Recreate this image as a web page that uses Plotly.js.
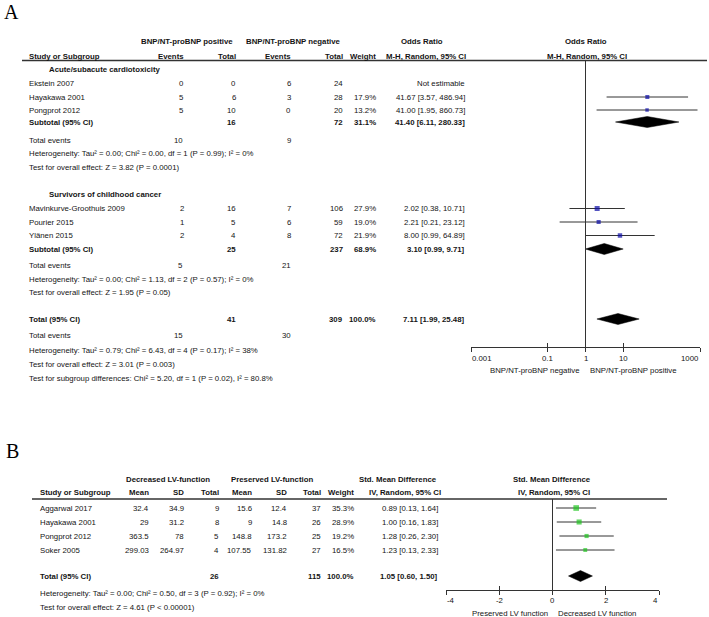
<!DOCTYPE html>
<html><head><meta charset="utf-8">
<script src="https://cdn.plot.ly/plotly-3.0.1.min.js"></script>
<style>html,body{margin:0;padding:0;background:#fff}#chart{width:709px;height:617px}</style>
</head><body><div id="chart"></div>
<script>
// ================= DATA : panel A =================
const groupNamesA = ["Acute/subacute cardiotoxicity", "Survivors of childhood cancer"];
const studiesA   = ["Ekstein 2007", "Hayakawa 2001", "Pongprot 2012", "Mavinkurve-Groothuis 2009", "Pourier 2015", "Ylänen 2015"];
const groupOfA   = [0, 0, 0, 1, 1, 1];
const posEventsA = [0, 5, 5, 2, 1, 2];
const posTotalA  = [0, 6, 10, 16, 5, 4];
const negEventsA = [6, 3, 0, 7, 6, 8];
const negTotalA  = [24, 28, 20, 106, 59, 72];
const weightA    = [null, 17.9, 13.2, 27.9, 19.0, 21.9];
const orA        = [null, 41.67, 41.00, 2.02, 2.21, 8.00];
const orLoA      = [null, 3.57, 1.95, 0.38, 0.21, 0.99];
const orHiA      = [null, 486.94, 860.73, 10.71, 23.12, 64.89];
// subgroup summaries
const subPosTotalA  = [16, 25];
const subNegTotalA  = [72, 237];
const subWeightA    = [31.1, 68.9];
const subOrA        = [41.40, 3.10];
const subLoA        = [6.11, 0.99];
const subHiA        = [280.33, 9.71];
const subPosEventsA = [10, 5];
const subNegEventsA = [9, 21];
const subTau2A = [0.00, 0.00];
const subChi2A = [0.00, 1.13];
const subDfA   = [1, 2];
const subHetPA = ["0.99", "0.57"];
const subI2A   = [0, 0];
const subZA    = [3.82, 1.95];
const subZPA   = ["0.0001", "0.05"];
// overall
const totPosTotalA = 41, totNegTotalA = 309, totWeightA = 100.0;
const totOrA = 7.11, totLoA = 1.99, totHiA = 25.48;
const totPosEventsA = 15, totNegEventsA = 30;
const totTau2A = 0.79, totChi2A = 6.43, totDfA = 4, totHetPA = "0.17", totI2A = 38;
const totZA = 3.01, totZPA = "0.003";
const sgChi2A = 5.20, sgDfA = 1, sgPA = "0.02", sgI2A = 80.8;
const ticksA = [0.001, 0.1, 1, 10, 1000];
const tickTextA = ["0.001", "0.1", "1", "10", "1000"];

// ================= DATA : panel B =================
const studiesB  = ["Aggarwal 2017", "Hayakawa 2001", "Pongprot 2012", "Soker 2005"];
const meanDecB  = [32.4, 29, 363.5, 299.03];
const sdDecB    = [34.9, 31.2, 78, 264.97];
const nDecB     = [9, 8, 5, 4];
const meanPresB = [15.6, 9, 148.8, 107.55];
const sdPresB   = [12.4, 14.8, 173.2, 131.82];
const nPresB    = [37, 26, 25, 27];
const weightB   = [35.3, 28.9, 19.2, 16.5];
const smdB      = [0.89, 1.00, 1.28, 1.23];
const smdLoB    = [0.13, 0.16, 0.26, 0.13];
const smdHiB    = [1.64, 1.83, 2.30, 2.33];
const totNDecB = 26, totNPresB = 115, totWeightB = 100.0;
const totSmdB = 1.05, totLoB = 0.60, totHiB = 1.50;
const totTau2B = 0.00, totChi2B = 0.50, totDfB = 3, totHetPB = "0.92", totI2B = 0;
const totZB = 4.61, totZPB = "< 0.00001";
const ticksB = [-4, -2, 0, 2, 4];
const tickTextB = ["-4", "-2", "0", "2", "4"];

// ================= LAYOUT (pixel geometry) =================
const W = 709, H = 617;
const FONT = '"Liberation Sans", Arial, Helvetica, sans-serif';
const FS = 7.8;
const TXT = '#141414';
const LINE = '#333333';
const px = x => x / W, py = y => 1 - y / H;

// row positions (layout)
const rowA = {
  head1: 42, head2: 56, line: 60.5, axis: 347, tick: 358,
  group: [69.5, 194.5],
  study: [84, 97, 110, 208.5, 222, 235.5],
  subtotal: [122, 249], tevents: [140.5, 265.5], het: [154, 279], test: [167.5, 292.5],
  total: 319, ttevents: 336, thet: 350, ttest: 364, tsub: 378, axTitle: 370
};
const colA = { label: 28, group: 48, ev1: 185, tot1: 237, ev2: 292, tot2: 344, w: 377, ci: 466 };
const rowB = {
  head1: 479, head2: 493, line: 499, axis: 590, tick: 600.5,
  study: [508, 522, 536, 550], total: 576, het: 593, test: 607, axTitle: 613
};
const colB = { label: 39, m1: 150, sd1: 185, n1: 220, m2: 253, sd2: 288, n2: 322, w: 355, ci: 439 };

const annotations = [];
function T(x, y, text, anchor, bold, font) {
  annotations.push({
    xref: 'paper', yref: 'paper', x: px(x), y: py(y),
    text: bold ? '<b>' + text + '</b>' : String(text),
    xanchor: anchor || 'left', yanchor: 'middle', showarrow: false,
    borderpad: 0, font: font || { family: FONT, size: FS, color: TXT }
  });
}
// tick labels placed on the axis' own data scale (edge labels kept inside the axis span)
function tickLabels(xref, vals, texts, ypx, isLog) {
  vals.forEach((v, i) => {
    annotations.push({
      xref: xref, yref: 'paper', x: isLog ? Math.log10(v) : v, y: py(ypx),
      text: texts[i], showarrow: false, borderpad: 0, yanchor: 'middle',
      xanchor: i === 0 ? 'left' : (i === vals.length - 1 ? 'right' : 'center'),
      font: { family: FONT, size: FS, color: TXT }
    });
  });
}
const f2 = v => v.toFixed(2);
const ci = (e, l, h) => `${f2(e)} [${f2(l)}, ${f2(h)}]`;
const pct = w => w.toFixed(1) + '%';
const het = (t, c, d, p, i) => `Heterogeneity: Tau² = ${f2(t)}; Chi² = ${f2(c)}, df = ${d} (P = ${p}); I² = ${i}%`;
const zt = (z, p) => `Test for overall effect: Z = ${f2(z)} (P ${p.startsWith('<') ? p : '= ' + p})`;

// ---- panel letters
T(11, 12, 'A', 'center', false, { family: '"Liberation Serif", "Times New Roman", serif', size: 20, color: '#000' });
T(12, 451, 'B', 'center', false, { family: '"Liberation Serif", "Times New Roman", serif', size: 20, color: '#000' });

// ---- panel A headers
T(187.5, rowA.head1, 'BNP/NT-proBNP positive', 'center', true);
T(293, rowA.head1, 'BNP/NT-proBNP negative', 'center', true);
T(422, rowA.head1, 'Odds Ratio', 'center', true);
T(586, rowA.head1, 'Odds Ratio', 'center', true);
T(colA.label, rowA.head2, 'Study or Subgroup', 'left', true);
T(colA.ev1, rowA.head2, 'Events', 'right', true);
T(colA.tot1, rowA.head2, 'Total', 'right', true);
T(colA.ev2, rowA.head2, 'Events', 'right', true);
T(colA.tot2, rowA.head2, 'Total', 'right', true);
T(colA.w, rowA.head2, 'Weight', 'right', true);
T(colA.ci + 1, rowA.head2, 'M-H, Random, 95% CI', 'right', true);
T(587, rowA.head2, 'M-H, Random, 95% CI', 'center', true);

// ---- panel A rows
groupNamesA.forEach((g, gi) => T(colA.group, rowA.group[gi], g, 'left', true));
studiesA.forEach((s, i) => {
  const y = rowA.study[i];
  T(colA.label, y, s, 'left');
  T(colA.ev1, y, posEventsA[i], 'right');
  T(colA.tot1, y, posTotalA[i], 'right');
  T(colA.ev2, y, negEventsA[i], 'right');
  T(colA.tot2, y, negTotalA[i], 'right');
  if (weightA[i] !== null) T(colA.w, y, pct(weightA[i]), 'right');
  T(colA.ci, y, orA[i] === null ? 'Not estimable' : ci(orA[i], orLoA[i], orHiA[i]), 'right');
});
groupNamesA.forEach((g, gi) => {
  let y = rowA.subtotal[gi];
  T(colA.label, y, 'Subtotal (95% CI)', 'left', true);
  T(colA.tot1, y, subPosTotalA[gi], 'right', true);
  T(colA.tot2, y, subNegTotalA[gi], 'right', true);
  T(colA.w, y, pct(subWeightA[gi]), 'right', true);
  T(colA.ci, y, ci(subOrA[gi], subLoA[gi], subHiA[gi]), 'right', true);
  y = rowA.tevents[gi];
  T(colA.label, y, 'Total events', 'left');
  T(colA.ev1 - 1, y, subPosEventsA[gi], 'right');
  T(colA.ev2, y, subNegEventsA[gi], 'right');
  T(colA.label, rowA.het[gi], het(subTau2A[gi], subChi2A[gi], subDfA[gi], subHetPA[gi], subI2A[gi]), 'left');
  T(colA.label, rowA.test[gi], zt(subZA[gi], subZPA[gi]), 'left');
});
T(colA.label, rowA.total, 'Total (95% CI)', 'left', true);
T(colA.tot1, rowA.total, totPosTotalA, 'right', true);
T(colA.tot2, rowA.total, totNegTotalA, 'right', true);
T(colA.w, rowA.total, pct(totWeightA), 'right', true);
T(colA.ci, rowA.total, ci(totOrA, totLoA, totHiA), 'right', true);
T(colA.label, rowA.ttevents, 'Total events', 'left');
T(colA.ev1 - 1, rowA.ttevents, totPosEventsA, 'right');
T(colA.ev2, rowA.ttevents, totNegEventsA, 'right');
T(colA.label, rowA.thet, het(totTau2A, totChi2A, totDfA, totHetPA, totI2A), 'left');
T(colA.label, rowA.ttest, zt(totZA, totZPA), 'left');
T(colA.label, rowA.tsub, `Test for subgroup differences: Chi² = ${f2(sgChi2A)}, df = ${sgDfA} (P = ${sgPA}), I² = ${sgI2A}%`, 'left');
T(581, rowA.axTitle, 'BNP/NT-proBNP negative', 'right');
T(589, rowA.axTitle, 'BNP/NT-proBNP positive', 'left');
tickLabels('x', ticksA, tickTextA, rowA.tick, true);

// ---- panel B headers
T(167.5, rowB.head1, 'Decreased LV-function', 'center', true);
T(272, rowB.head1, 'Preserved LV-function', 'center', true);
T(398, rowB.head1, 'Std. Mean Difference', 'center', true);
T(552, rowB.head1, 'Std. Mean Difference', 'center', true);
T(colB.label, rowB.head2, 'Study or Subgroup', 'left', true);
T(colB.m1, rowB.head2, 'Mean', 'right', true);
T(colB.sd1, rowB.head2, 'SD', 'right', true);
T(colB.n1, rowB.head2, 'Total', 'right', true);
T(colB.m2, rowB.head2, 'Mean', 'right', true);
T(colB.sd2, rowB.head2, 'SD', 'right', true);
T(colB.n2, rowB.head2, 'Total', 'right', true);
T(colB.w, rowB.head2, 'Weight', 'right', true);
T(colB.ci + 3, rowB.head2, 'IV, Random, 95% CI', 'right', true);
T(554, rowB.head2, 'IV, Random, 95% CI', 'center', true);
studiesB.forEach((s, i) => {
  const y = rowB.study[i];
  T(colB.label, y, s, 'left');
  T(colB.m1, y, meanDecB[i], 'right');
  T(colB.sd1, y, sdDecB[i], 'right');
  T(colB.n1, y, nDecB[i], 'right');
  T(colB.m2, y, meanPresB[i], 'right');
  T(colB.sd2, y, sdPresB[i], 'right');
  T(colB.n2, y, nPresB[i], 'right');
  T(colB.w, y, pct(weightB[i]), 'right');
  T(colB.ci, y, ci(smdB[i], smdLoB[i], smdHiB[i]), 'right');
});
T(colB.label, rowB.total, 'Total (95% CI)', 'left', true);
T(colB.n1, rowB.total, totNDecB, 'right', true);
T(colB.n2, rowB.total, totNPresB, 'right', true);
T(colB.w, rowB.total, pct(totWeightB), 'right', true);
T(colB.ci, rowB.total, ci(totSmdB, totLoB, totHiB), 'right', true);
T(colB.label, rowB.het, het(totTau2B, totChi2B, totDfB, totHetPB, totI2B), 'left');
T(colB.label, rowB.test, zt(totZB, totZPB), 'left');
T(549, rowB.axTitle, 'Preserved LV function', 'right');
T(557, rowB.axTitle, 'Decreased LV function', 'left');
tickLabels('x2', ticksB, tickTextB, rowB.tick, false);

// ================= TRACES =================
const DH = 5.5; // diamond half-height in px units
const traces = [];
const idxA = orA.map((v, i) => v === null ? -1 : i).filter(i => i >= 0);
traces.push({
  type: 'scatter', mode: 'markers', xaxis: 'x', yaxis: 'y',
  x: idxA.map(i => orA[i]), y: idxA.map(i => rowA.study[i]),
  marker: { symbol: 'square', color: '#0b0ba6', size: idxA.map(i => 0.95 * Math.sqrt(weightA[i])), line: { width: 0 } },
  error_x: { type: 'data', symmetric: false, array: idxA.map(i => orHiA[i] - orA[i]), arrayminus: idxA.map(i => orA[i] - orLoA[i]), width: 0, thickness: 1, color: LINE }
});
function diamond(xa, ya, e, l, h, y) {
  traces.push({ type: 'scatter', mode: 'lines', xaxis: xa, yaxis: ya, fill: 'toself', fillcolor: '#000',
    line: { color: '#000', width: 0.5 }, x: [l, e, h, e, l], y: [y, y - DH, y, y + DH, y] });
}
subOrA.forEach((e, gi) => diamond('x', 'y', e, subLoA[gi], subHiA[gi], rowA.subtotal[gi]));
diamond('x', 'y', totOrA, totLoA, totHiA, rowA.total);

traces.push({
  type: 'scatter', mode: 'markers', xaxis: 'x2', yaxis: 'y2',
  x: smdB, y: rowB.study,
  marker: { symbol: 'square', color: '#1fc41f', size: weightB.map(w => 0.95 * Math.sqrt(w)), line: { width: 0 } },
  error_x: { type: 'data', symmetric: false, array: smdHiB.map((h, i) => h - smdB[i]), arrayminus: smdLoB.map((l, i) => smdB[i] - l), width: 0, thickness: 1, color: LINE }
});
diamond('x2', 'y2', totSmdB, totLoB, totHiB, rowB.total);
// empty traces to activate overlay tick axes (upward tick halves)
traces.push({ type: 'scatter', mode: 'markers', xaxis: 'x3', yaxis: 'y', x: [], y: [], showlegend: false });
traces.push({ type: 'scatter', mode: 'markers', xaxis: 'x4', yaxis: 'y2', x: [], y: [], showlegend: false });

const domA = [px(471), px(700)], domB = [px(446), px(659)];
const baseAx = { showgrid: false, zeroline: false, tickmode: 'array', ticklen: 4, tickcolor: LINE, tickwidth: 1, showticklabels: false };
const layout = {
  width: W, height: H, margin: { l: 0, r: 0, t: 0, b: 0 },
  paper_bgcolor: '#fff', plot_bgcolor: 'rgba(0,0,0,0)', showlegend: false,
  xaxis: Object.assign({}, baseAx, { type: 'log', range: [-3, 3], domain: domA, anchor: 'y',
    showline: true, linecolor: LINE, linewidth: 1, ticks: 'outside', tickvals: ticksA }),
  xaxis3: Object.assign({}, baseAx, { type: 'log', range: [-3, 3], overlaying: 'x', anchor: 'y', side: 'bottom',
    showline: false, ticks: 'inside', tickvals: ticksA }),
  yaxis: { domain: [py(rowA.axis), py(rowA.line)], range: [rowA.axis, rowA.line], visible: false, anchor: 'x' },
  xaxis2: Object.assign({}, baseAx, { range: [-4, 4], domain: domB, anchor: 'y2',
    showline: true, linecolor: LINE, linewidth: 1, ticks: 'outside', tickvals: ticksB }),
  xaxis4: Object.assign({}, baseAx, { range: [-4, 4], overlaying: 'x2', anchor: 'y2', side: 'bottom',
    showline: false, ticks: 'inside', tickvals: ticksB }),
  yaxis2: { domain: [py(rowB.axis), py(rowB.line)], range: [rowB.axis, rowB.line], visible: false, anchor: 'x2' },
  shapes: [
    { type: 'line', xref: 'paper', yref: 'paper', x0: px(22), x1: px(707), y0: py(rowA.line), y1: py(rowA.line), line: { color: LINE, width: 1.3 } },
    { type: 'line', xref: 'x', yref: 'y domain', x0: 1, x1: 1, y0: 0, y1: 1, line: { color: LINE, width: 1 } },
    { type: 'line', xref: 'paper', yref: 'paper', x0: px(32), x1: px(667), y0: py(rowB.line), y1: py(rowB.line), line: { color: LINE, width: 1.3 } },
    { type: 'line', xref: 'x2', yref: 'y2 domain', x0: 0, x1: 0, y0: 0, y1: 1, line: { color: LINE, width: 1 } }
  ],
  annotations: annotations
};
Plotly.newPlot('chart', traces, layout, { staticPlot: true, displayModeBar: false });
</script>
</body></html>
